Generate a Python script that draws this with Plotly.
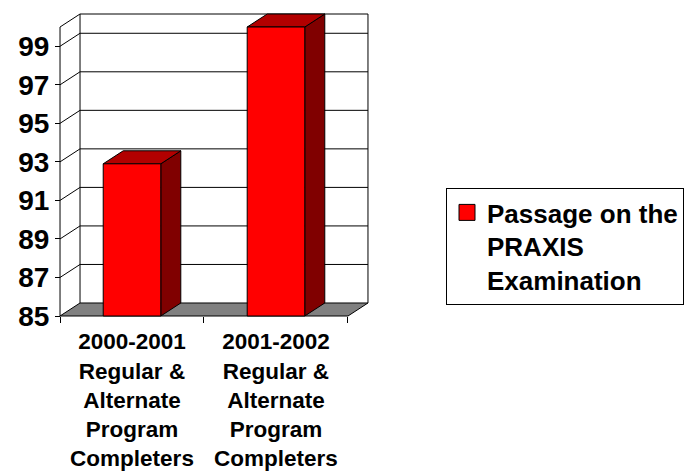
import plotly.graph_objects as go

# ---- data ----
categories = [
    "2000-2001<br>Regular &<br>Alternate<br>Program<br>Completers",
    "2001-2002<br>Regular &<br>Alternate<br>Program<br>Completers",
]
values = [92.9, 100.0]
series_name = "Passage on the<br>PRAXIS<br>Examination"
y_ticks = [85, 87, 89, 91, 93, 95, 97, 99]
y_min, y_max = 85, 100

# ---- 3D geometry (data units) ----
DX, DY = 0.139, 0.675      # depth offset
PADX, PADY = 0.014, 0.104  # room so edge lines are not clipped
BAR_W = 0.40
x_left, x_right = -0.5, len(categories) - 0.5

FRONT = "#FF0000"
TOP = "#B20000"
SIDE = "#800000"
FLOOR = "#808080"
LINE = dict(color="black", width=1)

fig = go.Figure()

# floor
fig.add_trace(go.Scatter(
    x=[x_left, x_right, x_right + DX, x_left + DX, x_left],
    y=[y_min, y_min, y_min + DY, y_min + DY, y_min],
    mode="lines", fill="toself", fillcolor=FLOOR, line=LINE,
    showlegend=False, hoverinfo="skip"))

# gridlines on side wall + back wall
gx, gy = [], []
for v in y_ticks[1:]:
    gx += [x_left, x_left + DX, x_right + DX, None]
    gy += [v, v + DY, v + DY, None]
fig.add_trace(go.Scatter(x=gx, y=gy, mode="lines", line=LINE,
                         showlegend=False, hoverinfo="skip"))

# wall outlines
wx = [x_left, x_left, x_left + DX, x_right + DX, x_right + DX, None,
      x_left + DX, x_left + DX]
wy = [y_min, y_max, y_max + DY, y_max + DY, y_min + DY, None,
      y_min + DY, y_max + DY]
fig.add_trace(go.Scatter(x=wx, y=wy, mode="lines", line=LINE,
                         showlegend=False, hoverinfo="skip"))

# bars
for i, v in enumerate(values):
    l, r = i - BAR_W / 2, i + BAR_W / 2
    # side face
    fig.add_trace(go.Scatter(
        x=[r, r + DX, r + DX, r, r],
        y=[y_min, y_min + DY, v + DY, v, y_min],
        mode="lines", fill="toself", fillcolor=SIDE, line=LINE,
        showlegend=False, hoverinfo="skip"))
    # top face
    fig.add_trace(go.Scatter(
        x=[l, r, r + DX, l + DX, l],
        y=[v, v, v + DY, v + DY, v],
        mode="lines", fill="toself", fillcolor=TOP, line=LINE,
        showlegend=False, hoverinfo="skip"))
    # front face
    fig.add_trace(go.Scatter(
        x=[l, r, r, l, l],
        y=[y_min, y_min, v, v, y_min],
        mode="lines", fill="toself", fillcolor=FRONT, line=LINE,
        showlegend=False, hoverinfo="text", text=f"{v}"))

# legend entry
fig.add_trace(go.Scatter(
    x=[None], y=[None], mode="markers", name=series_name,
    marker=dict(symbol="square", size=16, color=FRONT,
                line=dict(color="black", width=1)),
    showlegend=True))

xr = [x_left - PADX, x_right + DX + PADX]
yr = [y_min - PADY, y_max + DY + PADY]

fig.update_layout(
    width=691, height=473,
    margin=dict(l=58, r=321, t=12, b=155, autoexpand=False),
    paper_bgcolor="white", plot_bgcolor="white",
    font=dict(family="Liberation Sans, Arial, sans-serif", color="black"),
    xaxis=dict(
        range=xr, showgrid=False, zeroline=False, showline=False,
        anchor="free", position=PADY / (yr[1] - yr[0]),
        tickmode="array", tickvals=list(range(len(categories))),
        ticktext=categories, ticks="",
        ticklabelstandoff=10,
        tickfont=dict(size=22.5, weight="bold"),
        minor=dict(tickmode="array",
                   tickvals=[k - 0.5 for k in range(len(categories) + 1)],
                   ticks="outside", ticklen=6, tickwidth=1,
                   tickcolor="black", showgrid=False),
        fixedrange=True,
    ),
    yaxis=dict(
        range=yr, showgrid=False, zeroline=False, showline=False,
        anchor="free", position=PADX / (xr[1] - xr[0]),
        tickmode="array", tickvals=y_ticks,
        ticks="outside", ticklen=5, tickwidth=1, tickcolor="black",
        tickfont=dict(size=28, weight="bold"),
        fixedrange=True,
    ),
    legend=dict(
        x=(446 - 58) / 312, y=(318 - 188) / 306,
        xanchor="left", yanchor="top",
        bordercolor="black", borderwidth=1, bgcolor="white",
        valign="top",
        font=dict(size=26, weight="bold"),
    ),
    showlegend=True,
)

fig.write_html("out.html", config={"displayModeBar": False},
               post_script="document.body.style.margin='0px';")
